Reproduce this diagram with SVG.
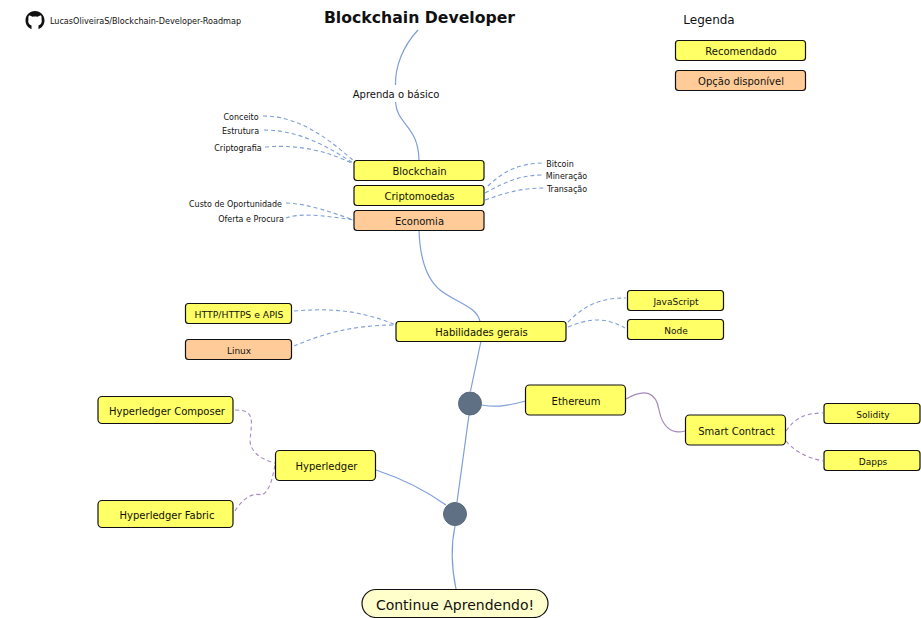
<svg xmlns="http://www.w3.org/2000/svg" width="921" height="618" viewBox="0 0 921 618">
<style>
text{font-family:"DejaVu Sans",Verdana,sans-serif;fill:#111;text-anchor:middle;dominant-baseline:central}
.y{fill:#ffff66;stroke:#111;stroke-width:1.2}
.o{fill:#ffcc99;stroke:#111;stroke-width:1.2}
.c{fill:#5f6f84;stroke:#5a6a7e;stroke-width:1}
.l{fill:none;stroke:#7f9fd6;stroke-width:1.2}
.d{fill:none;stroke:#7f9fd6;stroke-width:1.1;stroke-dasharray:4 3}
.p{fill:none;stroke:#a688bd;stroke-width:1.2}
.pd{fill:none;stroke:#a688bd;stroke-width:1.1;stroke-dasharray:4 3}
.s9{font-size:9px}.s10{font-size:10px}.s12{font-size:12px}.s8{font-size:8px}
</style>
<g id="connectors">
<path class="l" d="M418 30C402 47 395 68 395.500 85"/>
<path class="l" d="M395.500 102C397 125 418 125 419 160"/>
<path class="l" d="M419 230C420 262 428 280 440 290C455 302 476 306 480 321"/>
<path class="l" d="M481 341L470.500 391"/>
<path class="l" d="M469 415L457 502"/>
<path class="l" d="M482 405C498 408 510 405 526 401"/>
<path class="l" d="M376 470C400 478 425 490 446 505"/>
<path class="l" d="M455 526C451 545 451 565 456 589"/>
<path class="d" d="M263 116C300 116 330 140 355 162"/>
<path class="d" d="M264 130C300 130 330 148 353 163"/>
<path class="d" d="M265 147C300 144 330 152 353 164"/>
<path class="d" d="M286 203C310 204 330 212 354 220"/>
<path class="d" d="M286 218C300 213 320 215 354 220"/>
<path class="d" d="M488 186C505 170 520 163 545 163"/>
<path class="d" d="M485 193C505 182 520 175 543 175"/>
<path class="d" d="M485 200C505 193 520 188 545 188"/>
<path class="d" d="M294 311C330 308 360 310 396 325"/>
<path class="d" d="M294 346C320 335 350 325 396 325"/>
<path class="d" d="M568 322C585 305 600 298 626 298"/>
<path class="d" d="M568 327C590 318 605 317 625 328"/>
<path class="p" d="M626 399C645 388 656 392 659 410C662 425 670 435 685 431"/>
<path class="pd" d="M786 431C795 418 805 413 823 413"/>
<path class="pd" d="M786 441C795 452 808 458 823 461"/>
<path class="pd" d="M235 410C255 410 252 420 250 440C250 452 262 460 275 463"/>
<path class="pd" d="M235 511C245 495 255 493 262 495C270 490 272 480 275 465"/>
</g>
<g id="github"><path fill="#111" d="M35 11C29.500 11 25.500 15.300 25.500 20.500C25.500 24.500 28 27.800 31.500 29.200L31.500 25.500C28.500 24.500 27.800 22 28.500 19C28.200 17.500 28.500 16.300 29 15.500C30.300 15.500 31.500 16.200 32.300 16.800C34 16.300 36 16.300 37.700 16.800C38.500 16.200 39.700 15.500 41 15.500C41.500 16.300 41.800 17.500 41.500 19C42.200 22 41.500 24.500 38.500 25.500L38.500 29.200C42 27.800 44.500 24.500 44.500 20.500C44.500 15.300 40.500 11 35 11Z"/></g>
<g id="repo"><text x="145.500" y="21" style="font-size:8.100px">LucasOliveiraS/Blockchain-Developer-Roadmap</text></g>
<g id="title"><text x="419.500" y="17" style="font-size:15.700px;font-weight:bold">Blockchain Developer</text></g>
<g id="aprenda"><text class="s10" x="396" y="94">Aprenda o básico</text></g>
<g id="legenda"><text class="s12" x="709" y="20">Legenda</text></g>
<g id="recomendado"><rect class="y" x="675.500" y="40.500" width="130" height="20" rx="3"/><text class="s10" x="741" y="51">Recomendado</text></g>
<g id="opcao"><rect class="o" x="675.500" y="70.500" width="130" height="20" rx="3"/><text class="s10" x="741" y="81">Opção disponível</text></g>
<g id="conceito"><text class="s8" x="241" y="117">Conceito</text></g>
<g id="estrutura"><text class="s8" x="240.500" y="131">Estrutura</text></g>
<g id="criptografia"><text class="s8" x="238" y="148">Criptografia</text></g>
<g id="custo"><text class="s8" x="235.500" y="204">Custo de Oportunidade</text></g>
<g id="oferta"><text class="s8" x="251" y="219">Oferta e Procura</text></g>
<g id="bitcoin"><text class="s8" x="560" y="164">Bitcoin</text></g>
<g id="mineracao"><text class="s8" x="566.500" y="176">Mineração</text></g>
<g id="transacao"><text class="s8" x="567" y="189">Transação</text></g>
<g id="blockchain"><rect class="y" x="354" y="160.500" width="130" height="20" rx="3"/><text class="s10" x="419.500" y="171">Blockchain</text></g>
<g id="criptomoedas"><rect class="y" x="354" y="185.500" width="130" height="20" rx="3"/><text class="s10" x="419.500" y="196">Criptomoedas</text></g>
<g id="economia"><rect class="o" x="354" y="210.500" width="130" height="20" rx="3"/><text class="s10" x="419.500" y="221">Economia</text></g>
<g id="habilidades"><rect class="y" x="396" y="321.500" width="170" height="20" rx="3"/><text class="s10" x="481.500" y="332">Habilidades gerais</text></g>
<g id="http"><rect class="y" x="185.500" y="303.500" width="106" height="20" rx="3"/><text x="239" y="314.500" style="font-size:9.300px">HTTP/HTTPS e APIS</text></g>
<g id="linux"><rect class="o" x="185.500" y="339.500" width="106" height="20" rx="3"/><text class="s9" x="239" y="351">Linux</text></g>
<g id="javascript"><rect class="y" x="627.500" y="290.500" width="96" height="20" rx="3"/><text class="s9" x="676" y="302">JavaScript</text></g>
<g id="node"><rect class="y" x="627.500" y="319.500" width="96" height="20" rx="3"/><text class="s9" x="676" y="331">Node</text></g>
<g id="hub1"><circle class="c" cx="470" cy="403.500" r="11.500"/></g>
<g id="hub2"><circle class="c" cx="455" cy="514" r="11.500"/></g>
<g id="ethereum"><rect class="y" x="525.500" y="385" width="100" height="30" rx="4"/><text class="s10" x="576" y="401">Ethereum</text></g>
<g id="smart"><rect class="y" x="685.500" y="415" width="100" height="30" rx="4"/><text class="s10" x="736.500" y="431">Smart Contract</text></g>
<g id="solidity"><rect class="y" x="824" y="403.500" width="96" height="20" rx="3"/><text class="s9" x="873" y="415">Solidity</text></g>
<g id="dapps"><rect class="y" x="824" y="450.500" width="96" height="20" rx="3"/><text class="s9" x="873" y="462">Dapps</text></g>
<g id="hyperledger"><rect class="y" x="275.500" y="450.500" width="100" height="30" rx="4"/><text class="s10" x="326.500" y="466">Hyperledger</text></g>
<g id="composer"><rect class="y" x="98" y="396.500" width="135" height="27" rx="4"/><text class="s10" x="167" y="411">Hyperledger Composer</text></g>
<g id="fabric"><rect class="y" x="98" y="500.500" width="135" height="27" rx="4"/><text class="s10" x="167" y="515">Hyperledger Fabric</text></g>
<g id="continue"><rect x="362" y="589.500" width="186" height="28" rx="14" fill="#ffffcc" stroke="#111" stroke-width="1.200"/><text x="455" y="604.500" style="font-size:14px">Continue Aprendendo!</text></g>
</svg>
